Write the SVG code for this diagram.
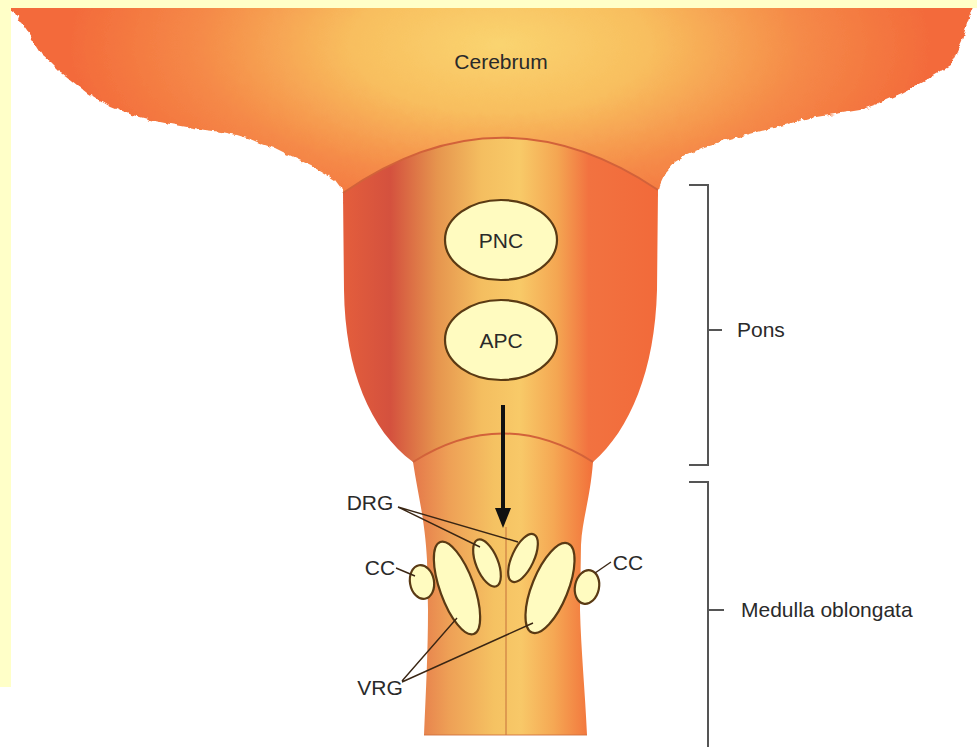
<svg xmlns="http://www.w3.org/2000/svg" width="977" height="747" viewBox="0 0 977 747">
  <defs>
    <style>
      .lbl { font-family: "Liberation Sans", Arial, Helvetica, sans-serif; font-size: 21px; fill: #2a2a2a; }
      .nucleus { fill: #FFFBC0; stroke: #5A3A14; stroke-width: 2.2; }
      .leader { fill: none; stroke: #3A2614; stroke-width: 1.4; }
      .bracket { fill: none; stroke: #555; stroke-width: 2; }
      .seam { fill: none; stroke: #D2623A; stroke-width: 2; }
    </style>
    <radialGradient id="cerebrumFill" gradientUnits="userSpaceOnUse" cx="500" cy="45" r="430"
                    gradientTransform="translate(500 45) scale(1 0.45) translate(-500 -45)">
      <stop offset="0" stop-color="#FAD470"/>
      <stop offset="0.35" stop-color="#F8BE5E"/>
      <stop offset="0.7" stop-color="#F58A48"/>
      <stop offset="1" stop-color="#F36B3B"/>
    </radialGradient>
    <linearGradient id="ponsFill" gradientUnits="userSpaceOnUse" x1="343" y1="0" x2="658" y2="0">
      <stop offset="0" stop-color="#E45E3C"/>
      <stop offset="0.15" stop-color="#D4513E"/>
      <stop offset="0.3" stop-color="#E6954E"/>
      <stop offset="0.44" stop-color="#F4BE60"/>
      <stop offset="0.56" stop-color="#F8CA68"/>
      <stop offset="0.68" stop-color="#F4A652"/>
      <stop offset="0.78" stop-color="#F27240"/>
      <stop offset="1" stop-color="#F26A3A"/>
    </linearGradient>
    <linearGradient id="medullaFill" gradientUnits="userSpaceOnUse" x1="413" y1="0" x2="593" y2="0">
      <stop offset="0" stop-color="#E5784A"/>
      <stop offset="0.2" stop-color="#EEA056"/>
      <stop offset="0.45" stop-color="#F5C262"/>
      <stop offset="0.6" stop-color="#F8C868"/>
      <stop offset="0.78" stop-color="#F5A854"/>
      <stop offset="1" stop-color="#F2703A"/>
    </linearGradient>
    <filter id="ragged" x="-3%" y="-5%" width="106%" height="110%">
      <feTurbulence type="fractalNoise" baseFrequency="0.13" numOctaves="2" seed="4" result="noise"/>
      <feDisplacementMap in="SourceGraphic" in2="noise" scale="6" xChannelSelector="R" yChannelSelector="G"/>
    </filter>
    <marker id="arrowhead" markerUnits="userSpaceOnUse" markerWidth="20" markerHeight="18"
            viewBox="0 0 20 18" refX="0" refY="9" orient="auto">
      <path d="M0,1 L20,9 L0,17 Z" fill="#111"/>
    </marker>
  </defs>

  <!-- page background with pale border strips -->
  <rect x="0" y="0" width="977" height="747" fill="#FFFFFF"/>

  <!-- cerebrum with ragged lower margin -->
  <g id="cerebrum">
    <path filter="url(#ragged)" fill="url(#cerebrumFill)"
          d="M6,6 L975,6 L970,14 L962,40 L950,66 L927,80 L903,93 L880,103 L860,110 L835,114
             L810,118 L773,128 L750,134 L729,140 L705,147 L688,154 L675,162 L666,172 L660,185
             L655,205 L346,205 L341,188 L335,180 L324,173 L312,166 L299,160 L286,154 L274,148
             L262,144 L250,139 L237,135 L222,132 L205,130 L187,127 L170,124 L155,121 L140,117
             L125,113 L110,107 L98,100 L87,93 L77,85 L67,77 L58,70 L50,62 L43,56 L36,45
             L29,34 L22,24 L14,12 Z"/>
  </g>

  <rect x="0" y="0" width="977" height="8" fill="#FFFFC8"/>
  <rect x="0" y="0" width="11" height="687" fill="#FFFFC8"/>

  <!-- pons -->
  <g id="pons">
    <path fill="url(#ponsFill)"
          d="M343,193 Q500,84 658,190 L657,290 C655,370 630,430 593,462 Q503,405 413,462
             C370,430 345,370 344,290 Z"/>
    <path class="seam" d="M343,193 Q500,84 658,190"/>
  </g>

  <!-- medulla oblongata -->
  <g id="medulla">
    <path fill="url(#medullaFill)"
          d="M413,462 Q503,405 593,462 C590,500 582,520 581,545 L580,610 C581,650 585,690 587,735
             L424,735 C426,690 428,650 428,610 L427,560 C425,520 418,495 413,462 Z"/>
    <path class="seam" stroke-width="1.8" d="M413,462 Q503,405 593,462"/>
    <path fill="none" stroke="#D8904C" stroke-width="1.6" d="M506,527 L506,735"/>
    <path fill="none" stroke="#D0703E" stroke-width="1.5" opacity="0.6" d="M424,735 L587,735"/>
  </g>

  <!-- pontine centres -->
  <g id="node-pnc">
    <ellipse class="nucleus" cx="501" cy="240" rx="56" ry="40"/>
    <text class="lbl" x="501" y="247.5" text-anchor="middle">PNC</text>
  </g>
  <g id="node-apc">
    <ellipse class="nucleus" cx="501" cy="340" rx="56" ry="40"/>
    <text class="lbl" x="501" y="347.5" text-anchor="middle">APC</text>
  </g>

  <!-- medullary groups -->
  <g id="node-cc-left">
    <ellipse class="nucleus" cx="422" cy="582" rx="12" ry="17" transform="rotate(-10 422 582)"/>
  </g>
  <g id="node-vrg-left">
    <ellipse class="nucleus" cx="457" cy="588" rx="17" ry="49" transform="rotate(-20 457 588)"/>
  </g>
  <g id="node-drg-left">
    <ellipse class="nucleus" cx="487" cy="563" rx="11" ry="25" transform="rotate(-22 487 563)"/>
  </g>
  <g id="node-drg-right">
    <ellipse class="nucleus" cx="523" cy="558" rx="11" ry="26" transform="rotate(25 523 558)"/>
  </g>
  <g id="node-vrg-right">
    <ellipse class="nucleus" cx="550" cy="588" rx="18" ry="48" transform="rotate(22 550 588)"/>
  </g>
  <g id="node-cc-right">
    <ellipse class="nucleus" cx="587" cy="587" rx="12" ry="17" transform="rotate(12 587 587)"/>
  </g>

  <!-- connectors: descending arrow, leader lines, brackets -->
  <g id="connectors">
    <line x1="503" y1="405" x2="503" y2="508" stroke="#111" stroke-width="4" marker-end="url(#arrowhead)"/>
    <path class="leader" d="M398,507 L480,547 M398,507 L518,542"/>
    <path class="leader" d="M396,568 L415,576"/>
    <path class="leader" d="M611,562 L595,573"/>
    <path class="leader" d="M402,681 L457,618 M402,682 L533,623"/>
    <path class="bracket" d="M689,185 H708 V465 H689 M708,330 H722"/>
    <path class="bracket" d="M689,482 H708 V747 M708,610 H724"/>
  </g>

  <!-- labels -->
  <g id="labels">
    <text class="lbl" x="501" y="69" text-anchor="middle">Cerebrum</text>
    <text class="lbl" x="370" y="509.5" text-anchor="middle">DRG</text>
    <text class="lbl" x="380" y="574.5" text-anchor="middle">CC</text>
    <text class="lbl" x="628" y="569.5" text-anchor="middle">CC</text>
    <text class="lbl" x="380" y="694.5" text-anchor="middle">VRG</text>
    <text class="lbl" x="737" y="337">Pons</text>
    <text class="lbl" x="741" y="617">Medulla oblongata</text>
  </g>
</svg>
